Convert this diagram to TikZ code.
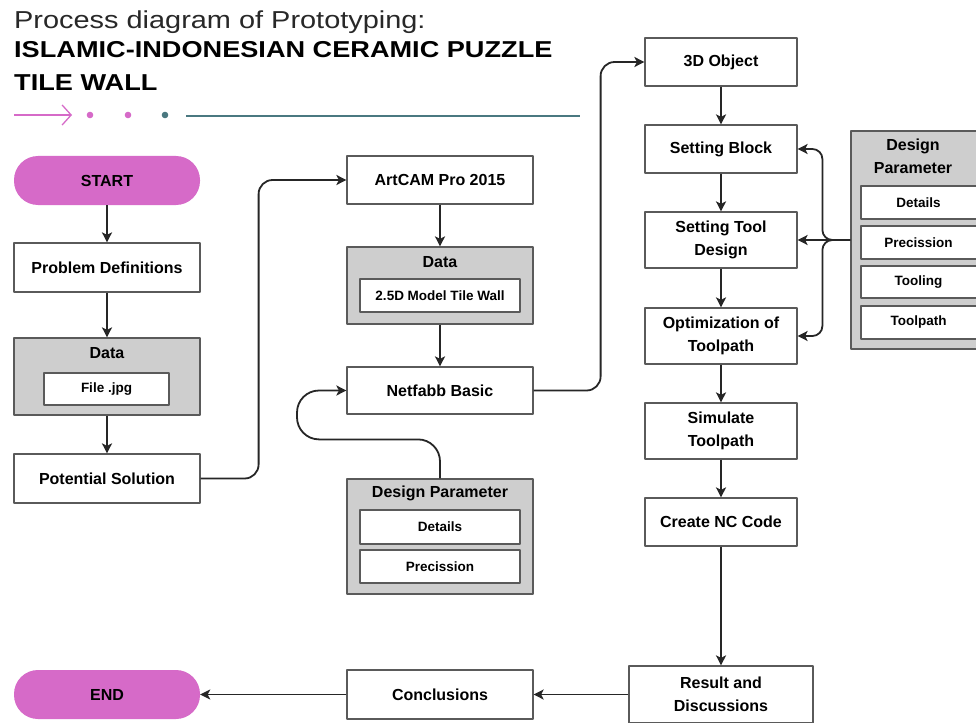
\documentclass[tikz,border=0pt]{standalone}
\usepackage{fontspec}
\setmainfont{Liberation Sans}
\newfontfamily\headfont[FakeStretch=1.18]{Liberation Sans}
\usetikzlibrary{arrows.meta}
\definecolor{pinkfill}{RGB}{214,106,200}
\definecolor{boxgray}{RGB}{206,206,206}
\definecolor{edgegray}{RGB}{90,90,90}
\definecolor{tealline}{RGB}{74,120,128}
\definecolor{titlegray}{RGB}{40,40,40}
\tikzset{
  stepbox/.style={draw=edgegray,fill=white,line width=1.2pt,inner sep=0pt,align=center,
    font=\fontsize{16}{23}\selectfont\bfseries},
  pillbox/.style={fill=pinkfill,rounded corners=24pt,minimum width=186pt,minimum height=49pt,
    inner sep=0pt,font=\fontsize{16}{20}\selectfont\bfseries},
  graybox/.style={draw=edgegray,fill=boxgray,line width=1.2pt,inner sep=0pt},
  innerbox/.style={draw=edgegray,fill=white,line width=1.2pt,inner sep=0pt,
    font=\fontsize{13.5}{16}\selectfont\bfseries},
  grouptitle/.style={inner sep=0pt,align=center,font=\fontsize{16}{23}\selectfont\bfseries},
  conn/.style={line width=1.8pt,draw=black!85,->},
}
\begin{document}
\begin{tikzpicture}[x=1pt,y=1pt,line join=round,>={Stealth[length=10pt,width=10pt,inset=2.5pt]}]
\useasboundingbox (0,0) rectangle (976,-722);
\clip (0,0) rectangle (976,-722);
\fill[white] (0,0) rectangle (976,-722);

\node[anchor=west,inner sep=0pt,text=titlegray,font=\headfont\fontsize{24.5}{28}\selectfont] (title) at (14,-22) {Process diagram of Prototyping:};
\node[anchor=west,inner sep=0pt,font=\headfont\bfseries\fontsize{23}{26}\selectfont] (head1) at (14,-50) {ISLAMIC-INDONESIAN CERAMIC PUZZLE};
\node[anchor=west,inner sep=0pt,font=\headfont\bfseries\fontsize{23}{26}\selectfont] (head2) at (14,-83) {TILE WALL};

\draw[pinkfill,line width=1.3pt,-{Straight Barb[length=9pt,width=20pt,line width=1.3pt]}] (14,-115)--(72,-115);
\fill[pinkfill] (90,-115) circle (3.3) (128,-115) circle (3.3);
\fill[tealline] (165,-115) circle (3.3);
\draw[tealline,line width=1.3pt] (186,-116)--(580,-116);

\node[pillbox] (start) at (107,-180.5) {START};
\node[stepbox,minimum width=186pt,minimum height=49pt] (probdef) at (107,-267.5) {Problem Definitions};
\node[graybox,minimum width=186pt,minimum height=77pt] (data1) at (107,-376.5) {};
\node[grouptitle] (data1t) at (107,-353) {Data};
\node[innerbox,minimum width=125pt,minimum height=32pt] (jpg) at (106.5,-389) {File .jpg};
\node[stepbox,minimum width=186pt,minimum height=49pt] (potsol) at (107,-478.5) {Potential Solution};
\node[pillbox] (end) at (107,-694.5) {END};

\node[stepbox,minimum width=186pt,minimum height=48pt] (artcam) at (440,-180) {ArtCAM Pro 2015};
\node[graybox,minimum width=186pt,minimum height=77pt] (data2) at (440,-285.5) {};
\node[grouptitle] (data2t) at (440,-262) {Data};
\node[innerbox,minimum width=160pt,minimum height=33pt] (model) at (440,-295.5) {2.5D Model Tile Wall};
\node[stepbox,minimum width=186pt,minimum height=47pt] (netfabb) at (440,-390.5) {Netfabb Basic};
\node[graybox,minimum width=186pt,minimum height=115pt] (param1) at (440,-536.5) {};
\node[grouptitle] (param1t) at (440,-493) {Design Parameter};
\node[innerbox,minimum width=160pt,minimum height=34pt] (details1) at (440,-527) {Details};
\node[innerbox,minimum width=160pt,minimum height=33pt] (prec1) at (440,-566.5) {Precission};
\node[stepbox,minimum width=186pt,minimum height=49pt] (concl) at (440,-694.5) {Conclusions};

\node[stepbox,minimum width=152pt,minimum height=48pt] (obj3d) at (721,-62) {3D Object};
\node[stepbox,minimum width=152pt,minimum height=48pt] (block) at (721,-149) {Setting Block};
\node[stepbox,minimum width=152pt,minimum height=56pt] (tool) at (721,-240) {Setting Tool\\Design};
\node[stepbox,minimum width=152pt,minimum height=56pt] (optim) at (721,-336) {Optimization of\\Toolpath};
\node[stepbox,minimum width=152pt,minimum height=56pt] (simul) at (721,-431) {Simulate\\Toolpath};
\node[stepbox,minimum width=152pt,minimum height=48pt] (nccode) at (721,-522) {Create NC Code};
\node[stepbox,minimum width=184pt,minimum height=57pt] (result) at (721,-694.5) {Result and\\Discussions};

\node[graybox,minimum width=140pt,minimum height=218pt] (param2) at (921,-240) {};
\node[grouptitle] (param2t) at (913,-156) {Design\\Parameter};
\node[innerbox,minimum width=129pt,minimum height=33pt] (details2) at (925.5,-202.5) {\hspace*{-14pt}Details};
\node[innerbox,minimum width=129pt,minimum height=33pt] (prec2) at (925.5,-242.5) {\hspace*{-14pt}Precission};
\node[innerbox,minimum width=129pt,minimum height=32pt] (tooling) at (925.5,-282) {\hspace*{-14pt}Tooling};
\node[innerbox,minimum width=129pt,minimum height=33pt] (toolpath) at (925.5,-322.5) {\hspace*{-14pt}Toolpath};

\draw[conn] (start)--(probdef);
\draw[conn] (probdef)--(data1);
\draw[conn] (data1)--(potsol);
\draw[conn,rounded corners=14pt] (potsol.east)--++(58,0)|-(artcam.west);
\draw[conn] (artcam)--(data2);
\draw[conn] (data2)--(netfabb);
\draw[conn,rounded corners=22pt] (param1.north)--++(0,39)--++(-143,0)|-(netfabb.west);
\draw[conn,rounded corners=14pt] (netfabb.east)--++(67,0)|-(obj3d.west);
\draw[conn] (obj3d)--(block);
\draw[conn] (block)--(tool);
\draw[conn] (tool)--(optim);
\draw[conn] (optim)--(simul);
\draw[conn] (simul)--(nccode);
\draw[conn] (nccode)--(result);
\draw[conn,rounded corners=10pt] (param2.west)--++(-28,0)|-(block.east);
\draw[conn] (param2.west)--(tool.east);
\draw[conn,rounded corners=10pt] (param2.west)--++(-28,0)|-(optim.east);
\draw[conn] (result)--(concl);
\draw[conn] (concl)--(end);
\end{tikzpicture}
\end{document}
